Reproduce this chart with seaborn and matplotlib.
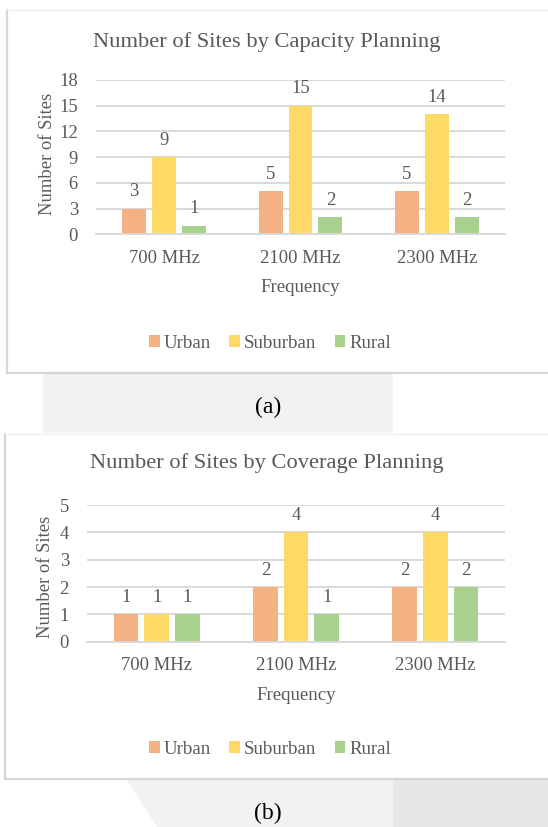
import matplotlib
matplotlib.use("Agg")
import matplotlib.pyplot as plt
import pandas as pd
import seaborn as sns
from matplotlib.patches import Rectangle, Polygon
from matplotlib.lines import Line2D

# ---- data ----
frequencies = ["700 MHz", "2100 MHz", "2300 MHz"]
areas = ["Urban", "Suburban", "Rural"]

capacity_urban = [3, 5, 5]
capacity_suburban = [9, 15, 14]
capacity_rural = [1, 2, 2]
capacity_ticks = [0, 3, 6, 9, 12, 15, 18]

coverage_urban = [1, 2, 2]
coverage_suburban = [1, 4, 4]
coverage_rural = [1, 1, 2]
coverage_ticks = [0, 1, 2, 3, 4, 5]

palette = {"Urban": "#F4B183", "Suburban": "#FFD966", "Rural": "#A9D18E"}
TEXT = "#595959"
GRID = "#D9D9D9"

sns.set_style("white")
plt.rcParams["font.family"] = ["Liberation Serif", "DejaVu Serif"]

W, H = 548, 827
fig = plt.figure(figsize=(W / 100, H / 100), dpi=100)


def fx(x):
    return x / W


def fy(y):
    return 1 - y / H


def long_table(urban, suburban, rural):
    rows = []
    for series, name in zip((urban, suburban, rural), areas):
        for f, v in zip(frequencies, series):
            rows.append({"Frequency": f, "Area": name, "Sites": v})
    return pd.DataFrame(rows)


def panel_frame(x0, y0, y1):
    # light card outline around each chart
    fig.add_artist(Line2D([fx(x0), fx(x0)], [fy(y0), fy(y1)], color="#D6D6D6", lw=1.6))
    fig.add_artist(Line2D([fx(x0), fx(W)], [fy(y1), fy(y1)], color="#D6D6D6", lw=1.6))
    fig.add_artist(Line2D([fx(x0), fx(W)], [fy(y0), fy(y0)], color="#F0F0F0", lw=1.0))


def draw_panel(box, urban, suburban, rural, ticks, title, title_y, xlabel_y,
               legend_y, ylabel_pos, caption, caption_y):
    left, top, right, bottom = box
    ax = fig.add_axes([fx(left), fy(bottom), fx(right) - fx(left), (bottom - top) / H])
    df = long_table(urban, suburban, rural)
    sns.barplot(data=df, x="Frequency", y="Sites", hue="Area", order=frequencies,
                hue_order=areas, palette=palette, saturation=1, errorbar=None,
                width=0.66, gap=0.2, linewidth=0, ax=ax)
    ax.set_ylim(0, ticks[-1])
    ax.set_xlim(-0.5, len(frequencies) - 0.5)
    ax.set_yticks(ticks)
    ax.yaxis.grid(True, color=GRID, lw=1.4)
    ax.set_axisbelow(True)
    for s in ("top", "right", "left"):
        ax.spines[s].set_visible(False)
    ax.spines["bottom"].set_color(GRID)
    ax.spines["bottom"].set_linewidth(1.4)
    ax.tick_params(axis="both", length=0, labelsize=13.4, labelcolor=TEXT)
    ax.tick_params(axis="y", pad=13)
    ax.tick_params(axis="x", pad=11)
    ax.set_xlabel("")
    ax.set_ylabel("")
    for c in ax.containers:
        ax.bar_label(c, padding=6, color=TEXT, fontsize=13.4)

    handles, labels = ax.get_legend_handles_labels()
    ax.legend_.remove()
    fig.legend(handles, labels, loc="center", bbox_to_anchor=(fx(270), fy(legend_y)),
               ncol=3, frameon=False, fontsize=13.6, labelcolor=TEXT,
               handlelength=0.55, handleheight=0.55, handletextpad=0.2,
               columnspacing=1.0, borderpad=0)

    fig.text(fx(267), fy(title_y), title, ha="center", va="center",
             fontsize=16.2, color=TEXT)
    fig.text(fx((left + right) / 2), fy(xlabel_y), "Frequency", ha="center",
             va="center", fontsize=13.6, color=TEXT)
    fig.text(fx(ylabel_pos[0]), fy(ylabel_pos[1]), "Number of Sites", rotation=90,
             ha="center", va="center", fontsize=13.4, color=TEXT)
    fig.text(fx(268), fy(caption_y), caption, ha="center", va="center",
             fontsize=17, color="black")
    return ax


# page background strips behind the captions
fig.add_artist(Rectangle((fx(43), fy(433)), fx(393) - fx(43), (433 - 374) / H,
                         facecolor="#F2F2F2", edgecolor="none", zorder=-5))
fig.add_artist(Polygon([(fx(127), fy(780)), (fx(393), fy(780)), (fx(393), fy(827)),
                        (fx(157), fy(827))], closed=True, facecolor="#F2F2F2",
                       edgecolor="none", zorder=-5))
fig.add_artist(Rectangle((fx(393), 0), fx(W) - fx(393), (827 - 780) / H,
                         facecolor="#E7E7E7", edgecolor="none", zorder=-5))

panel_frame(7, 10, 373)
panel_frame(5, 434, 779)

draw_panel((96, 80, 505, 234.3), capacity_urban, capacity_suburban, capacity_rural,
           capacity_ticks, "Number of Sites by Capacity Planning", 42, 288, 343,
           (47, 154), "(a)", 407)
draw_panel((87, 505, 505, 641.7), coverage_urban, coverage_suburban, coverage_rural,
           coverage_ticks, "Number of Sites by Coverage Planning", 463, 695, 749,
           (45, 577), "(b)", 813)

fig.savefig("out.png", dpi=100)
